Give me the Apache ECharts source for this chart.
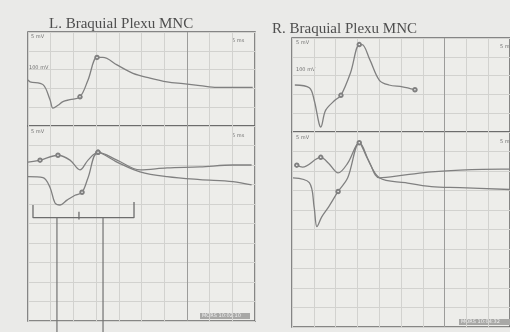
<!DOCTYPE html>
<html>
<head>
<meta charset="utf-8">
<script src="https://cdn.jsdelivr.net/npm/echarts@6/dist/echarts.min.js"></script>
<style>
  html, body { margin: 0; padding: 0; background: #eaeae8; }
  #chart { width: 510px; height: 332px; }
</style>
</head>
<body>
<div id="chart"></div>
<script>
// Brachial plexus motor nerve conduction, left and right sides.
// Time in ms (2 ms per division), amplitude in mV.
const panelTitles = ['L. Braquial Plexu MNC', 'R. Braquial Plexu MNC'];

// Left side, upper window (single trace)
const lTopMs = [0, 0.18, 1.32, 1.94, 2.2, 2.64, 3.08, 3.7, 4.58, 5.29, 6.08, 6.6, 7.84, 9.25, 10.75, 12.25, 13.66, 15.15, 16.65, 18.06, 19.8];
const lTopMv = [4.9, 4.7, 4.4, 2.8, 1.9, 2.2, 2.6, 2.8, 3.1, 4.9, 7.3, 7.3, 6.5, 5.6, 5.1, 4.7, 4.5, 4.3, 4.1, 4.1, 4.1];

// Left side, lower window (two superimposed traces)
const lBotAMs = [0, 1.06, 2.64, 3.7, 4.58, 5.29, 6.17, 7.84, 9.87, 12.25, 15.15, 18.06, 19.7];
const lBotAMv = [16.3, 16.5, 17.0, 16.5, 15.5, 16.5, 17.3, 16.5, 15.5, 15.7, 15.8, 16.0, 16.0];
const lBotBMs = [0, 1.32, 1.94, 2.38, 2.82, 3.44, 4.14, 4.76, 5.29, 6.17, 7.84, 9.87, 12.25, 15.15, 18.06, 19.7];
const lBotBMv = [14.8, 14.7, 13.7, 12.1, 11.9, 12.4, 12.9, 13.2, 14.7, 17.3, 16.3, 15.3, 14.8, 14.5, 14.3, 13.95];

// Latency bracket and cursors under the left lower traces
const bracketMs = [0.44, 0.44, 9.34, 9.34];
const bracketMv = [11.9, 10.6, 10.6, 12.2];
const bracketTickMs = [4.49, 4.49];
const bracketTickMv = [11.2, 10.4];
const cursorMs = [2.55, 6.61];
const cursorMv = [10.6, -1.13];

// Right side, upper window
const rTopMs = [0.26, 1.59, 2.03, 2.47, 2.64, 3.08, 3.96, 4.49, 5.37, 6.17, 6.43, 7.14, 8.02, 8.9, 10.13, 11.28];
const rTopMv = [5.0, 4.7, 3.4, 0.96, 0.53, 2.3, 3.4, 3.9, 6.3, 9.3, 9.3, 7.7, 5.5, 5.0, 4.8, 4.5];

// Right side, lower window
const rBotAMs = [0.44, 0.97, 2.64, 3.35, 4.23, 5.11, 6.17, 7.14, 8.02, 10.4, 12.78, 15.42, 19.2, 20];
const rBotAMv = [16.6, 16.4, 17.4, 16.8, 15.8, 16.8, 18.9, 16.8, 15.3, 15.6, 15.9, 16.1, 16.2, 16.2];
const rBotBMs = [0.09, 1.59, 2.03, 2.29, 2.73, 3.35, 4.23, 5.11, 6.17, 6.87, 8.02, 10.4, 12.78, 15.42, 20];
const rBotBMv = [15.3, 14.8, 12.3, 10.3, 11.3, 12.3, 13.9, 15.3, 18.9, 17.4, 15.3, 14.8, 14.4, 14.3, 14.1];

// Indexes of the points flagged with a cursor marker on each trace
const lTopMarks = [8, 10];
const lBotAMarks = [1, 2, 6];
const lBotBMarks = [7, 9];
const rTopMarks = [7, 9, 15];
const rBotAMarks = [0, 2, 6];
const rBotBMarks = [6];

const zip = (xs, ys, marks) => xs.map((x, i) => (marks && marks.includes(i))
  ? { value: [x, ys[i]], symbol: 'emptyCircle', symbolSize: 3.5 }
  : [x, ys[i]]);

const traceColor = '#808080';
const minor = '#d2d2cf';
const major = '#9c9c9a';

// vertical grid lines: the 8th division line is printed darker
const xLineColors = [minor, minor, minor, minor, minor, minor, minor, major, minor, minor, minor];

const gridBoxes = [
  { left: 28, top: 32, width: 227, height: 94 },
  { left: 28, top: 126, width: 227, height: 195 },
  { left: 292, top: 38, width: 227, height: 94 },
  { left: 292, top: 132, width: 227, height: 195 }
];

const chart = echarts.init(document.getElementById('chart'));

const grid = gridBoxes.map(b => Object.assign({
  show: true,
  backgroundColor: '#ededea',
  borderColor: '#646464',
  borderWidth: 1.5,
  containLabel: false
}, b));

const xAxis = gridBoxes.map((b, i) => ({
  type: 'value', gridIndex: i, min: 0, max: 20, interval: 2,
  axisLine: { show: false }, axisTick: { show: false }, axisLabel: { show: false },
  splitLine: { show: true, lineStyle: { color: xLineColors, width: 1 } }
}));

const yAxis = gridBoxes.map((b, i) => {
  const tall = (i % 2) === 1;
  return {
    type: 'value', gridIndex: i, min: 0, max: tall ? 20 : 10, interval: 2,
    axisLine: { show: false }, axisTick: { show: false }, axisLabel: { show: false },
    splitLine: { show: true, lineStyle: { color: minor, width: 1 } }
  };
});

const traceSeries = (gi, data) => ({
  type: 'line', xAxisIndex: gi, yAxisIndex: gi, data: data,
  showSymbol: true, symbol: 'none', smooth: 0.35,
  itemStyle: { color: traceColor, borderColor: '#777', borderWidth: 1 },
  lineStyle: { color: traceColor, width: 1.3 },
  animation: false, silent: true
});

const annotSeries = (gi, data, color, width) => ({
  type: 'line', xAxisIndex: gi, yAxisIndex: gi, data: data,
  symbol: 'none', clip: false,
  lineStyle: { color: color, width: width },
  animation: false, silent: true
});

const series = [
  traceSeries(0, zip(lTopMs, lTopMv, lTopMarks)),
  traceSeries(1, zip(lBotAMs, lBotAMv, lBotAMarks)),
  traceSeries(1, zip(lBotBMs, lBotBMv, lBotBMarks)),
  annotSeries(1, zip(bracketMs, bracketMv), '#6d6d6d', 1.3),
  annotSeries(1, zip(bracketTickMs, bracketTickMv), '#6d6d6d', 1.3),
  annotSeries(1, zip([cursorMs[0], cursorMs[0]], cursorMv), '#727272', 1.2),
  annotSeries(1, zip([cursorMs[1], cursorMs[1]], cursorMv), '#727272', 1.2),
  traceSeries(2, zip(rTopMs, rTopMv, rTopMarks)),
  traceSeries(3, zip(rBotAMs, rBotAMv, rBotAMarks)),
  traceSeries(3, zip(rBotBMs, rBotBMv, rBotBMarks))
];

const small = { fill: '#707070', font: '5px "DejaVu Sans"' };
const panelText = (x, y, text) => ({ type: 'text', left: x, top: y, silent: true, style: Object.assign({ text: text }, small) });

chart.setOption({
  backgroundColor: '#eaeae8',
  animation: false,
  title: [
    { text: panelTitles[0], left: 44, top: 12,
      textStyle: { fontFamily: '"Liberation Serif", serif', fontSize: 15, fontWeight: 'normal', color: '#4e4e4e' } },
    { text: panelTitles[1], left: 267, top: 17,
      textStyle: { fontFamily: '"Liberation Serif", serif', fontSize: 15, fontWeight: 'normal', color: '#4e4e4e' } }
  ],
  grid: grid,
  xAxis: xAxis,
  yAxis: yAxis,
  series: series,
  graphic: [
    panelText(31, 34, '5 mV'),
    panelText(232, 38, '5 ms'),
    panelText(29, 65, '100 mV'),
    panelText(31, 129, '5 mV'),
    panelText(232, 133, '5 ms'),
    panelText(296, 40, '5 mV'),
    panelText(500, 44, '5 ms'),
    panelText(296, 67, '100 mV'),
    panelText(296, 135, '5 mV'),
    panelText(500, 139, '5 ms'),
    { type: 'rect', left: 200, top: 313, shape: { width: 50, height: 6 }, silent: true, style: { fill: '#a8a8a6' } },
    { type: 'text', left: 202, top: 313.5, silent: true, style: { text: 'MORS 10:02:10', fill: '#f0f0f0', font: '5px "DejaVu Sans"' } },
    { type: 'rect', left: 459, top: 319, shape: { width: 51, height: 6 }, silent: true, style: { fill: '#a8a8a6' } },
    { type: 'text', left: 461, top: 319.5, silent: true, style: { text: 'MORS 10:04:32', fill: '#f0f0f0', font: '5px "DejaVu Sans"' } }
  ]
});
</script>
</body>
</html>
